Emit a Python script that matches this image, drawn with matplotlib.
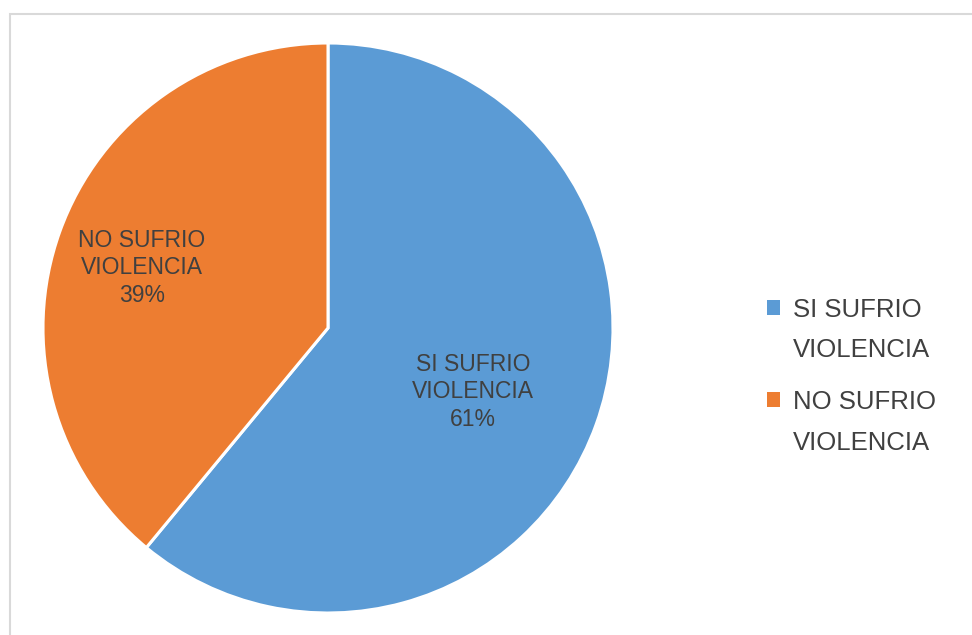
import numpy as np
import matplotlib
matplotlib.use('Agg')
import matplotlib.pyplot as plt
from matplotlib.patches import Rectangle
from matplotlib.legend_handler import HandlerPatch

# datos de la encuesta
categorias = ['SI SUFRIO\nVIOLENCIA', 'NO SUFRIO\nVIOLENCIA']
porcentajes = [61, 39]
colores = ['#5B9BD5', '#ED7D31']

W, H = 972, 635
fig = plt.figure(figsize=(W / 100, H / 100), dpi=100)
ax = fig.add_axes([0, 0, 1, 1])

# marco del area del grafico
ax.add_patch(Rectangle((10, -20), 1000, H - 14 + 20, fill=False,
                       edgecolor='#D9D9D9', linewidth=1.5, clip_on=False))

centro = (328, H - 328)
radio = 285
cunas, _ = ax.pie(porcentajes, colors=colores, startangle=90, counterclock=False,
                  center=centro, radius=radio, frame=True,
                  wedgeprops=dict(edgecolor='white', linewidth=2.2))
ax.set_xlim(0, W)
ax.set_ylim(0, H)
ax.set_aspect('equal')
ax.axis('off')

# etiquetas dentro de cada porcion
pos_etiquetas = [(473, H - 392), (142, H - 268)]
for (x, y), cat, p in zip(pos_etiquetas, categorias, porcentajes):
    ax.text(x, y, f'{cat}\n{p}%', ha='center', va='center', fontsize=16.5,
            family='Liberation Sans', color='#404040', linespacing=1.25)


def cuadro(legend, orig_handle, xdescent, ydescent, width, height, fontsize):
    # cuadrito alineado con la primera linea del texto
    return Rectangle((-xdescent, -ydescent + 0.9 * fontsize), width, height)


leg = ax.legend(cunas, categorias, loc='upper left',
                bbox_to_anchor=(767 / W, 1 - 298 / H), frameon=False,
                prop={'family': 'Liberation Sans', 'size': 18.5},
                handlelength=0.5, handleheight=0.5, handletextpad=0.5,
                labelspacing=1.1, borderpad=0, borderaxespad=0,
                handler_map={cunas[0]: HandlerPatch(patch_func=cuadro),
                             cunas[1]: HandlerPatch(patch_func=cuadro)})
for t in leg.get_texts():
    t.set_color('#404040')
    t.set_linespacing(1.85)
for h in leg.legend_handles:
    h.set_edgecolor('none')

fig.savefig('out.png', dpi=100, facecolor='white')
